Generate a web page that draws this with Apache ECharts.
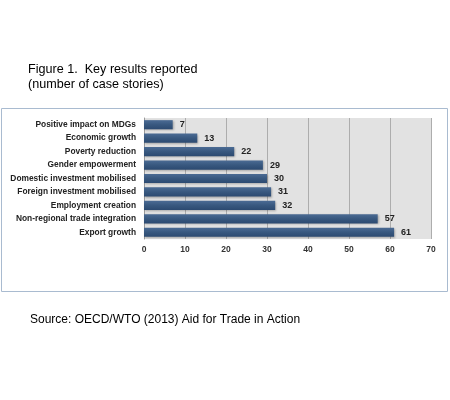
<!DOCTYPE html>
<html>
<head>
<meta charset="utf-8">
<title>Key results reported</title>
<script src="https://cdn.jsdelivr.net/npm/echarts@6/dist/echarts.min.js"></script>
<style>
    html, body { margin: 0; padding: 0; background: #ffffff; }
    #chart { width: 450px; height: 400px; }
</style>
</head>
<body>
<div id="chart"></div>
<script>
    var categories = [
        'Export growth',
        'Non-regional trade integration',
        'Employment creation',
        'Foreign investment mobilised',
        'Domestic investment mobilised',
        'Gender empowerment',
        'Poverty reduction',
        'Economic growth',
        'Positive impact on MDGs'
    ];
    var caseStories = [61, 57, 32, 31, 30, 29, 22, 13, 7];
    var xTicks = [0, 10, 20, 30, 40, 50, 60, 70];

    var chart = echarts.init(document.getElementById('chart'));

    var option = {
        animation: false,
        title: [{
            text: 'Figure 1.  Key results reported\n(number of case stories)',
            left: 28,
            top: 62,
            padding: 0,
            textStyle: {
                fontFamily: 'Liberation Sans, Arial, sans-serif',
                fontSize: 12.6,
                fontWeight: 'normal',
                color: '#000',
                lineHeight: 15
            }
        }, {
            text: 'Source: OECD/WTO (2013) Aid for Trade in Action',
            left: 30,
            top: 314,
            padding: 0,
            textStyle: {
                fontFamily: 'Liberation Sans, Arial, sans-serif',
                fontSize: 12,
                fontWeight: 'normal',
                color: '#000'
            }
        }],
        graphic: [{
            type: 'rect',
            shape: { x: 1.5, y: 108.5, width: 446, height: 183 },
            style: { fill: 'none', stroke: '#a9bbd0', lineWidth: 1 },
            silent: true
        }],
        grid: {
            left: 144,
            right: 19,
            top: 118,
            bottom: 161,
            show: true,
            backgroundColor: '#e2e2e2',
            borderWidth: 0
        },
        xAxis: {
            type: 'value',
            min: xTicks[0],
            max: xTicks[xTicks.length - 1],
            interval: 10,
            axisLine: { show: false },
            axisTick: { show: false },
            splitLine: { show: true, lineStyle: { color: '#adadad', width: 1 } },
            axisLabel: {
                fontFamily: 'Liberation Sans, Arial, sans-serif',
                fontSize: 8.5,
                fontWeight: 'bold',
                color: '#333',
                margin: 6
            }
        },
        yAxis: {
            type: 'category',
            data: categories,
            axisLine: { show: true, lineStyle: { color: '#9a9a9a' } },
            axisTick: { show: false },
            axisLabel: {
                fontFamily: 'Liberation Sans, Arial, sans-serif',
                fontSize: 8.4,
                fontWeight: 'bold',
                color: '#222',
                margin: 8
            }
        },
        series: [{
            type: 'bar',
            data: caseStories,
            barCategoryGap: '32%',
            itemStyle: {
                color: new echarts.graphic.LinearGradient(0, 0, 0, 1, [
                    { offset: 0, color: '#4b6b94' },
                    { offset: 0.5, color: '#38587f' },
                    { offset: 1, color: '#2c4a71' }
                ]),
                shadowColor: 'rgba(0,0,0,0.25)',
                shadowBlur: 2,
                shadowOffsetX: 1,
                shadowOffsetY: 1
            },
            label: {
                show: true,
                position: 'right',
                distance: 7,
                fontFamily: 'Liberation Sans, Arial, sans-serif',
                fontSize: 9,
                fontWeight: 'bold',
                color: '#222'
            }
        }]
    };

    chart.setOption(option);

    window.onresize = function () {
        chart.resize();
    };
</script>
</body>
</html>
